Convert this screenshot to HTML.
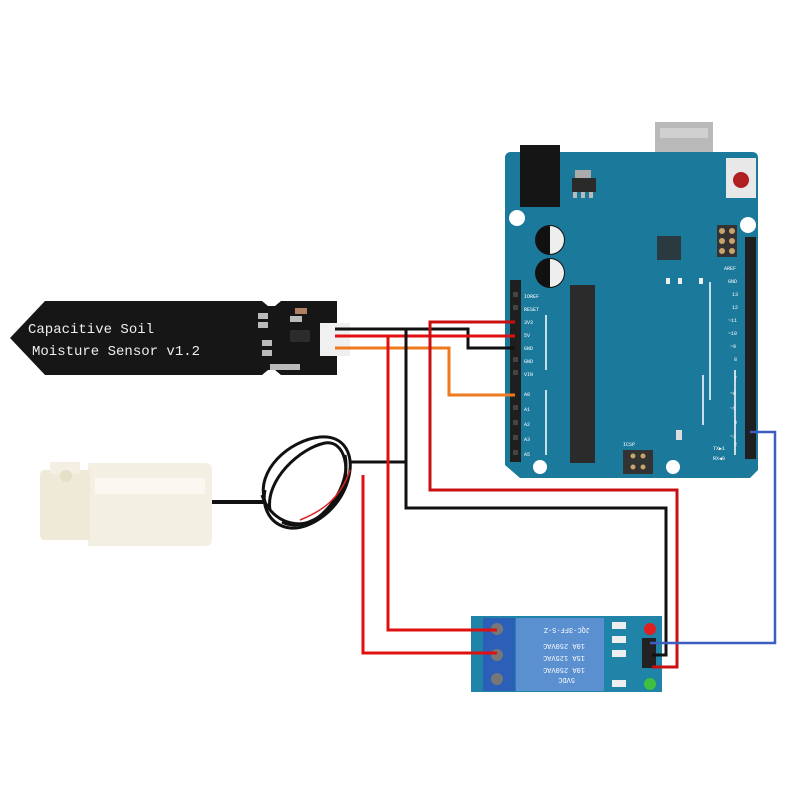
<!DOCTYPE html>
<html><head><meta charset="utf-8"><style>
html,body{margin:0;padding:0;background:#fff;width:800px;height:800px;overflow:hidden}
svg{display:block}
text{font-family:"Liberation Mono",monospace}
</style></head><body>
<svg width="800" height="800" viewBox="0 0 800 800" xmlns="http://www.w3.org/2000/svg">
<!-- Arduino board -->
<rect x="655" y="122" width="58" height="72" fill="#b9b9b9"/>
<rect x="660" y="128" width="48" height="10" fill="#d0d0d0"/>
<path d="M505,158 Q505,152 511,152 L752,152 Q758,152 758,158 L758,470 L750,478 L520,478 L505,465 Z" fill="#1b7a9b"/>
<rect x="520" y="145" width="40" height="62" fill="#151515"/>
<rect x="572" y="178" width="24" height="14" fill="#2a2a2a"/>
<rect x="575" y="170" width="16" height="8" fill="#aaa"/>
<rect x="573" y="192" width="4" height="6" fill="#bbb"/><rect x="581" y="192" width="4" height="6" fill="#bbb"/><rect x="589" y="192" width="4" height="6" fill="#bbb"/>
<rect x="726" y="158" width="30" height="40" fill="#e8e8e8"/>
<circle cx="741" cy="180" r="8" fill="#b02020"/>
<circle cx="517" cy="218" r="8" fill="#fff"/>
<circle cx="748" cy="225" r="8" fill="#fff"/>
<circle cx="550" cy="240" r="15" fill="#111"/><path d="M550,226 A14,14 0 0 1 550,254 Z" fill="#eee"/>
<circle cx="550" cy="273" r="15" fill="#111"/><path d="M550,259 A14,14 0 0 1 550,287 Z" fill="#eee"/>
<rect x="657" y="236" width="24" height="24" fill="#2b3a40"/>
<rect x="717" y="225" width="20" height="32" fill="#333"/>
<circle cx="722" cy="231" r="3" fill="#c9a36a"/><circle cx="732" cy="231" r="3" fill="#c9a36a"/>
<circle cx="722" cy="241" r="3" fill="#c9a36a"/><circle cx="732" cy="241" r="3" fill="#c9a36a"/>
<circle cx="722" cy="251" r="3" fill="#c9a36a"/><circle cx="732" cy="251" r="3" fill="#c9a36a"/>
<rect x="666" y="278" width="4" height="6" fill="#eee"/><rect x="678" y="278" width="4" height="6" fill="#eee"/><rect x="699" y="278" width="4" height="6" fill="#eee"/>
<rect x="570" y="285" width="25" height="178" fill="#2b2b2b"/>
<rect x="510" y="280" width="11" height="182" fill="#1f1f1f"/>
<rect x="745" y="237" width="11" height="222" fill="#1f1f1f"/>
<g fill="#444"><rect x="513" y="292" width="5" height="5"/><rect x="513" y="305" width="5" height="5"/><rect x="513" y="357" width="5" height="5"/><rect x="513" y="370" width="5" height="5"/><rect x="513" y="405" width="5" height="5"/><rect x="513" y="420" width="5" height="5"/><rect x="513" y="435" width="5" height="5"/><rect x="513" y="450" width="5" height="5"/></g>
<line x1="546" y1="315" x2="546" y2="370" stroke="#fff" stroke-width="1.5"/>
<line x1="546" y1="390" x2="546" y2="455" stroke="#fff" stroke-width="1.5"/>
<line x1="710" y1="282" x2="710" y2="400" stroke="#fff" stroke-width="1.5"/>
<line x1="703" y1="375" x2="703" y2="425" stroke="#fff" stroke-width="1.5"/>
<line x1="735" y1="370" x2="735" y2="455" stroke="#fff" stroke-width="1.5"/>
<rect x="623" y="450" width="30" height="24" fill="#333"/>
<circle cx="633" cy="456" r="2.5" fill="#c9a36a"/><circle cx="643" cy="456" r="2.5" fill="#c9a36a"/>
<circle cx="633" cy="467" r="2.5" fill="#c9a36a"/><circle cx="643" cy="467" r="2.5" fill="#c9a36a"/>
<circle cx="540" cy="467" r="7" fill="#fff"/><circle cx="673" cy="467" r="7" fill="#fff"/>
<rect x="676" y="430" width="6" height="10" fill="#ddd"/>
<g fill="#fff" font-size="5">
<text x="524" y="298">IOREF</text><text x="524" y="311">RESET</text><text x="524" y="324">3V3</text><text x="524" y="337">5V</text><text x="524" y="350">GND</text><text x="524" y="363">GND</text><text x="524" y="376">VIN</text>
<text x="524" y="396">A0</text><text x="524" y="411">A1</text><text x="524" y="426">A2</text><text x="524" y="441">A3</text><text x="524" y="456">A5</text>
<text x="724" y="270">AREF</text><text x="728" y="283">GND</text><text x="732" y="296">13</text><text x="732" y="309">12</text><text x="728" y="322">~11</text><text x="728" y="335">~10</text><text x="730" y="348">~9</text><text x="734" y="361">8</text>
<text x="734" y="380">7</text><text x="730" y="395">~6</text><text x="730" y="410">~5</text><text x="734" y="424">4</text><text x="730" y="438">~3</text><text x="734" y="446">2</text><text x="713" y="450">TX▶1</text><text x="713" y="460">RX◀0</text>
<text x="623" y="446">ICSP</text>
</g>
<!-- Sensor -->
<path d="M10,338 L45,301 L262,301 L268,306 L275,306 L281,301 L337,301 L337,375 L281,375 L275,370 L268,370 L262,375 L45,375 Z" fill="#161616"/>
<rect x="320" y="323" width="30" height="33" fill="#f0f0f0"/>
<text x="28" y="333" fill="#eee" font-size="14">Capacitive  Soil</text>
<text x="32" y="355" fill="#eee" font-size="14">Moisture Sensor v1.2</text>
<rect x="290" y="330" width="20" height="12" fill="#2b2b2b"/>
<g fill="#bbb"><rect x="258" y="313" width="10" height="6"/><rect x="258" y="322" width="10" height="6"/><rect x="262" y="340" width="10" height="6"/><rect x="262" y="350" width="10" height="6"/><rect x="270" y="364" width="30" height="6"/><rect x="290" y="316" width="12" height="6"/><rect x="295" y="308" width="12" height="6" fill="#b08060"/></g>
<!-- Pump -->
<rect x="195" y="500" width="70" height="4" fill="#111"/>
<path d="M88,463 L205,463 Q212,463 212,470 L212,540 Q212,546 205,546 L88,546 Z" fill="#f3efe2"/>
<path d="M45,470 L90,470 L90,540 L45,540 Q40,540 40,535 L40,476 Q40,470 45,470 Z" fill="#efe9d8"/>
<rect x="50" y="462" width="30" height="12" fill="#f3efe2"/>
<circle cx="66" cy="476" r="6" fill="#e6dfc8"/>
<rect x="95" y="478" width="110" height="16" fill="#faf8f0"/>
<g fill="none" stroke="#111" stroke-width="3">
<path d="M265,502 C255,470 290,440 320,437 C345,435 355,455 348,480 C340,510 310,530 290,528 C268,525 262,505 265,490"/>
<path d="M270,510 C265,480 300,448 325,443 C345,440 352,470 340,495 C330,515 300,532 282,522"/>
<path d="M262,495 C270,520 295,530 315,520 C335,505 350,480 345,455"/>
</g>
<path d="M300,520 C320,512 340,500 350,470" fill="none" stroke="#d22" stroke-width="1.5"/>
<!-- Relay -->
<rect x="471" y="616" width="191" height="76" fill="#1f84a8"/>
<rect x="483" y="618" width="32" height="73" fill="#2c5fb8"/>
<rect x="516" y="618" width="88" height="73" fill="#5a8fd0"/>
<circle cx="497" cy="629" r="6" fill="#777"/><circle cx="497" cy="655" r="6" fill="#777"/><circle cx="497" cy="679" r="6" fill="#777"/>
<g fill="#fff" font-size="7" font-family="Liberation Sans,sans-serif">
<text x="530" y="632" transform="rotate(180 560 630)">JQC-3FF-S-Z</text>
<text x="535" y="648" transform="rotate(180 560 646)">10A 250VAC</text>
<text x="535" y="660" transform="rotate(180 560 658)">15A 125VAC</text>
<text x="535" y="672" transform="rotate(180 560 670)">10A 250VAC</text>
<text x="545" y="682" transform="rotate(180 560 680)">5VDC</text>
</g>
<g fill="#eee"><rect x="612" y="622" width="14" height="7"/><rect x="612" y="636" width="14" height="7"/><rect x="612" y="650" width="14" height="7"/><rect x="612" y="680" width="14" height="7"/></g>
<circle cx="650" cy="629" r="6" fill="#e02020"/>
<circle cx="650" cy="684" r="6" fill="#40c040"/>
<rect x="642" y="638" width="14" height="30" fill="#222"/>
<!-- Wires -->
<g fill="none" stroke-width="3">
<polyline points="335,329 468,329 468,348 515,348" stroke="#111"/>
<polyline points="335,336 515,336" stroke="#e01010"/>
<polyline points="335,348 449,348 449,395 515,395" stroke="#ee7a20"/>
<polyline points="515,322 430,322 430,490 677,490 677,667 652,667" stroke="#c81010"/>
<polyline points="406,329 406,508 666,508 666,655 652,655" stroke="#111"/>
<polyline points="350,462 406,462" stroke="#111"/>
<polyline points="388,336 388,630 497,630" stroke="#e01010"/>
<polyline points="363,475 363,653 497,653" stroke="#e01010"/>
<polyline points="750,432 775,432 775,643 650,643" stroke="#3a5fc0" stroke-width="2.5"/>
</g>
</svg>
</body></html>
